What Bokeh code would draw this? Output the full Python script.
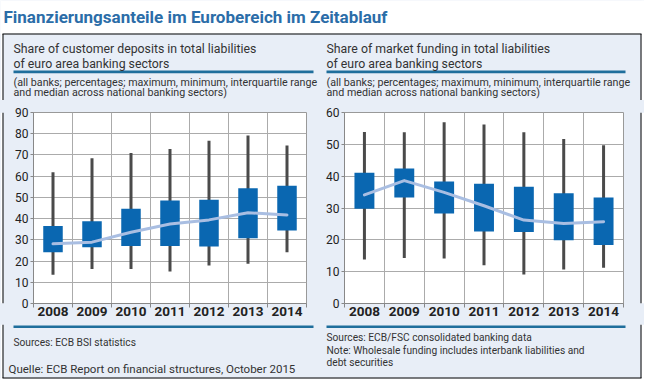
from bokeh.plotting import figure
from bokeh.layouts import column, row
from bokeh.models import Label, FixedTicker, Range1d
from bokeh.embed import file_html
from bokeh.resources import INLINE

# ---------------- data ----------------
years = ["2008", "2009", "2010", "2011", "2012", "2013", "2014"]

dep_max = [61.8, 68.4, 70.9, 72.8, 76.7, 79.2, 74.4]
dep_min = [13.6, 16.2, 16.2, 15.1, 17.9, 18.7, 24.2]
dep_q3 = [36.5, 38.7, 44.7, 48.5, 48.9, 54.3, 55.5]
dep_q1 = [24.2, 26.5, 27.1, 27.1, 26.9, 30.7, 34.4]
dep_med = [28.1, 28.9, 33.6, 37.5, 39.4, 42.8, 41.7]
dep_ticks = [0, 10, 20, 30, 40, 50, 60, 70, 80, 90]

mkt_max = [53.9, 53.8, 56.9, 56.2, 53.8, 51.7, 49.7]
mkt_min = [13.8, 14.3, 14.1, 12.0, 9.1, 10.7, 11.2]
mkt_q3 = [41.1, 42.4, 38.3, 37.6, 36.7, 34.6, 33.3]
mkt_q1 = [29.8, 33.3, 28.3, 22.6, 22.5, 19.9, 18.4]
mkt_med = [34.1, 38.6, 34.9, 30.7, 26.2, 25.1, 25.7]
mkt_ticks = [0, 10, 20, 30, 40, 50, 60]

main_title = "Finanzierungsanteile im Eurobereich im Zeitablauf"
left_title = ["Share of customer deposits in total liabilities", "of euro area banking sectors"]
right_title = ["Share of market funding in total liabilities", "of euro area banking sectors"]
sub_note = ["(all banks; percentages; maximum, minimum, interquartile range",
            "and median across national banking sectors)"]
left_foot = ["Sources: ECB BSI statistics"]
right_foot = ["Sources: ECB/FSC consolidated banking data",
              "Note: Wholesale funding includes interbank liabilities and",
              "debt securities"]
quelle = "Quelle: ECB Report on financial structures, October 2015"

# ---------------- style ----------------
FONT = "Roboto"
BG = "#e8eef7"
BOX = "#0a67b1"
WHISK = "#4a4a4a"
MED = "#a9bee2"
RULE = "#1f6e9c"
TITLE_C = "#2b6da8"
TXT = "#333333"
GRID = "#ababab"

W = 644
TOP_H, CH_H, FTR_H = 100, 224, 56
SPL, CHL, CHR, SPR = 12, 306, 314, 12
BX0, BX1 = 2.5, 640.5          # outer box vertical lines
BY0 = 33.5                      # outer box top line (in top figure)
SHIFT = 0.37                    # baseline correction (fraction of font size)


def canvas_fig(w, h, bg, css=None):
    p = figure(width=w, height=h, toolbar_location=None, output_backend="svg",
               x_axis_location=None, y_axis_location=None, min_border=0,
               x_range=Range1d(0, w), y_range=Range1d(h, 0),
               styles={"background": css or bg})
    p.outline_line_color = None
    p.border_fill_color = bg
    p.background_fill_color = bg
    p.grid.visible = False
    return p


def txt(p, x, base, text, size, color=TXT, style="normal"):
    p.add_layout(Label(x=x, y=base - SHIFT * size, text=text, text_font=FONT,
                       text_font_size=f"{size}px", text_color=color,
                       text_font_style=style, text_baseline="alphabetic"))


def seg(p, x0, y0, x1, y1, color="black", width=1.0):
    p.segment(x0=x0, y0=y0, x1=x1, y1=y1, line_color=color, line_width=width)


def fill(p, l, r, t, b, color):
    p.quad(left=[l], right=[r], top=[t], bottom=[b], fill_color=color, line_color=None)


def chart(width, fl, fr, ymax, ticks, qmax, qmin, q3, q1, med):
    pos = list(range(1, len(years) + 1))
    p = figure(width=width, height=CH_H, toolbar_location=None, output_backend="svg",
               x_range=Range1d(0.5, len(years) + 0.5), y_range=Range1d(0, ymax),
               min_border_left=fl, min_border_right=width - fr,
               min_border_top=12, min_border_bottom=CH_H - 12 - 191,
               styles={"background": BG})
    p.border_fill_color = BG
    p.background_fill_color = "white"
    p.outline_line_color = "#999999"

    p.segment(x0=pos, y0=qmin, x1=pos, y1=qmax, line_width=3, line_color=WHISK)
    p.vbar(x=pos, width=0.5, top=q3, bottom=q1, fill_color=BOX, line_color=None)
    p.line(x=pos, y=med, line_width=3, line_color=MED, line_join="round", line_cap="round")

    bounds = [i + 0.5 for i in range(len(years) + 1)]
    xa = p.xaxis[0]
    xa.ticker = FixedTicker(ticks=pos, minor_ticks=bounds)
    xa.major_label_overrides = {i: y for i, y in zip(pos, years)}
    xa.major_tick_out = 0
    xa.major_tick_in = 0
    xa.minor_tick_out = 4
    xa.minor_tick_in = 0
    xa.minor_tick_line_color = "#888888"
    xa.axis_line_color = "#888888"
    xa.major_label_text_font = FONT
    xa.major_label_text_font_style = "bold"
    xa.major_label_text_font_size = "13.5px"
    xa.major_label_text_color = "#222222"
    xa.major_label_standoff = -1

    ya = p.yaxis[0]
    ya.ticker = FixedTicker(ticks=ticks)
    ya.major_tick_out = 3
    ya.major_tick_in = 0
    ya.minor_tick_out = 0
    ya.minor_tick_in = 0
    ya.major_tick_line_color = "#888888"
    ya.axis_line_color = "#888888"
    ya.major_label_text_font = FONT
    ya.major_label_text_font_size = "12px"
    ya.major_label_text_color = "#222222"
    ya.major_label_standoff = 2

    p.xgrid.ticker = FixedTicker(ticks=bounds)
    p.xgrid.grid_line_color = GRID
    p.ygrid.grid_line_color = GRID
    return p


# ---- top: main title + panel headers ----
top = canvas_fig(W, TOP_H, BG,
                 css=f"linear-gradient(to bottom, #ffffff 0px, #ffffff 34px, {BG} 34px)")
fill(top, 0, W, 0, BY0 - 0.5, "white")
fill(top, BX1 + 0.5, W, 0, TOP_H, "white")
fill(top, 0, BX0 - 0.5, 0, TOP_H, "white")
seg(top, [BX0 - 0.5, BX0, BX1], [BY0, BY0, BY0], [BX1 + 0.5, BX0, BX1], [BY0, TOP_H, TOP_H])
txt(top, 3, 23, main_title, 17, color=TITLE_C, style="bold")

for x0, x1, ttl in [(13, 313, left_title), (326, 625, right_title)]:
    txt(top, x0, 53.3, ttl[0], 12.3)
    txt(top, x0, 68.3, ttl[1], 12.3)
    seg(top, [x0], [71.4], [x1], [71.4], color=RULE, width=2.6)
    txt(top, x0, 85.5, sub_note[0], 10.7)
    txt(top, x0, 95.7, sub_note[1], 10.7)

# ---- middle: charts ----
spL = canvas_fig(SPL, CH_H, BG)
fill(spL, 0, SPL, 0, CH_H, BG)
fill(spL, 0, BX0 - 0.5, 0, CH_H, "white")
seg(spL, [BX0], [0], [BX0], [CH_H])
chL = chart(CHL, 32 - SPL, 306 - SPL, 90, dep_ticks, dep_max, dep_min, dep_q3, dep_q1, dep_med)
chR = chart(CHR, 344 - SPL - CHL, 623 - SPL - CHL, 60, mkt_ticks, mkt_max, mkt_min,
            mkt_q3, mkt_q1, mkt_med)
xr = BX1 - SPL - CHL - CHR
spR = canvas_fig(SPR, CH_H, BG)
fill(spR, 0, SPR, 0, CH_H, BG)
fill(spR, xr + 0.5, SPR, 0, CH_H, "white")
seg(spR, [xr], [0], [xr], [CH_H])

# ---- bottom: footers ----
ftr = canvas_fig(W, FTR_H, BG,
                 css=f"linear-gradient(to bottom, {BG} 0px, {BG} 54px, #ffffff 54px)")
yb = FTR_H - 2.5
fill(ftr, 0, W, yb + 0.5, FTR_H, "white")
fill(ftr, BX1 + 0.5, W, 0, FTR_H, "white")
fill(ftr, 0, BX0 - 0.5, 0, FTR_H, "white")
seg(ftr, [BX0, BX1, BX0 - 0.5], [0, 0, yb], [BX0, BX1, BX1 + 0.5], [yb, yb, yb])
seg(ftr, [13, 326], [2.2, 2.2], [313, 625], [2.2, 2.2], color=RULE, width=2.6)
for i, t in enumerate(left_foot):
    txt(ftr, 13, 22 + 13 * i, t, 10.2)
txt(ftr, 8, 48.5, quelle, 11.5)
for i, t in enumerate(right_foot):
    txt(ftr, 326, 17 + 12.5 * i, t, 10.2)

middle = row(spL, chL, chR, spR, spacing=0, styles={"background-color": BG})
layout = column(top, middle, ftr, spacing=0)
open("out.html", "w").write(file_html(layout, INLINE))
